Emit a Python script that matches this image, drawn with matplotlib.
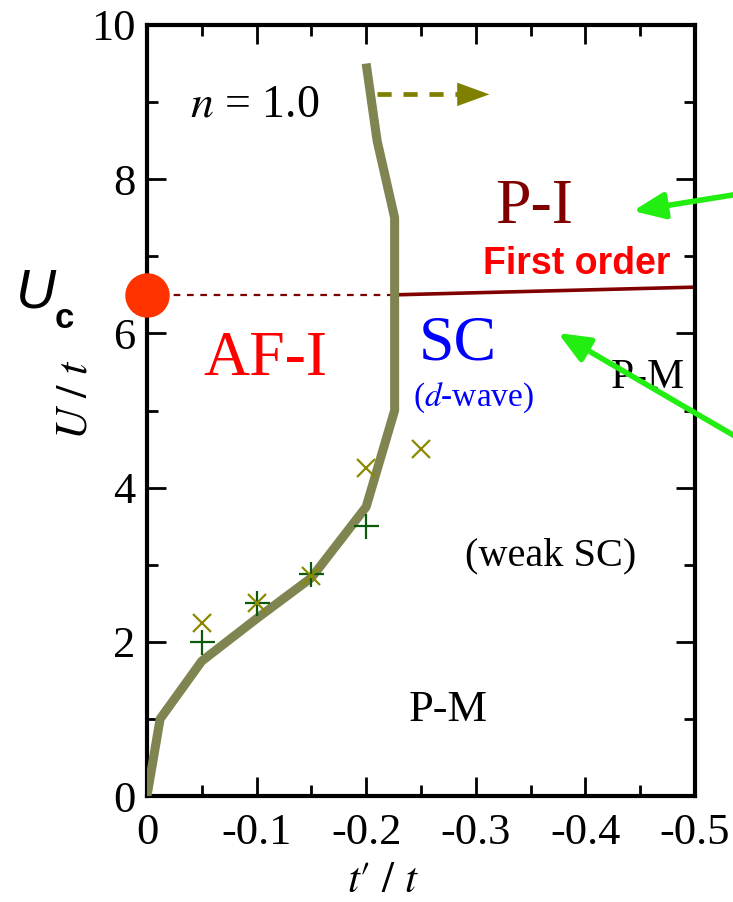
import numpy as np
import matplotlib.pyplot as plt
from matplotlib.ticker import MultipleLocator

plt.rcParams['font.family'] = ['Liberation Serif', 'DejaVu Serif']
plt.rcParams['mathtext.fontset'] = 'stix'
plt.rcParams['font.size'] = 30

# phase boundary AF-I / SC (thick line)
bnd_tp = [0.0, -0.012, -0.05, -0.1, -0.15, -0.2, -0.226, -0.226, -0.21, -0.2]
bnd_u = [0.0, 1.0, 1.75, 2.3, 2.83, 3.75, 5.0, 7.5, 8.5, 9.5]

# data points
plus_tp = [-0.05, -0.1, -0.15, -0.2]
plus_u = [2.0, 2.5, 2.875, 3.5]
cross_tp = [-0.05, -0.1, -0.15, -0.2, -0.25]
cross_u = [2.25, 2.5, 2.85, 4.25, 4.5]

# first-order Mott transition line
uc = 6.5
mott_tp = [-0.226, -0.5]
mott_u = [6.5, 6.6]

olive = '#7f8450'
dred = '#800000'

fig = plt.figure(figsize=(7.33, 9.02), dpi=100)
ax = fig.add_axes([0.2005, 0.1175, 0.7475, 0.8548])

ax.plot(bnd_tp, bnd_u, color=olive, lw=6.5, solid_capstyle='butt', zorder=3)
ax.plot(plus_tp, plus_u, '+', color='#0b5a0b', ms=18, mew=1.6, zorder=4)
ax.plot(cross_tp, cross_u, 'x', color='#8a8a00', ms=13, mew=1.6, zorder=4)

ax.plot([0, mott_tp[0]], [uc, uc], color=dred, lw=1.6, ls=(0, (3, 3)), zorder=2)
ax.plot(mott_tp, mott_u, color=dred, lw=2.6, zorder=2)
ax.plot([0], [uc], 'o', color='#ff3300', ms=32, mec='none', clip_on=False, zorder=5)

# dashed arrow: boundary shifts to larger |t'|
ax.plot([-0.21, -0.29], [9.1, 9.1], color='#808000', lw=3.4, ls=(0, (3, 2.5)))
ax.annotate('', xy=(-0.315, 9.1), xytext=(-0.285, 9.1),
            arrowprops=dict(arrowstyle='-|>,head_length=1.15,head_width=0.42',
                            mutation_scale=20, color='#808000', lw=0.1))

ax.text(-0.0985, 8.96, '$n$ = 1.0', ha='center', va='center', fontsize=33)
ax.text(-0.353, 7.63, 'P-I', ha='center', va='center', fontsize=46, color=dred)
ax.text(-0.392, 6.9, 'First order', ha='center', va='center', fontsize=27,
        color='#ff0000', fontweight='bold', family='Liberation Sans')
ax.text(-0.284, 5.86, 'SC', ha='center', va='center', fontsize=46, color='#0000ff')
ax.text(-0.298, 5.16, '($d$-wave)', ha='center', va='center', fontsize=24, color='#0000ff')
ax.text(-0.108, 5.65, 'AF-I', ha='center', va='center', fontsize=46, color='#ff0000')
ax.text(-0.457, 5.43, 'P-M', ha='center', va='center', fontsize=30)
ax.text(-0.368, 3.11, '(weak SC)', ha='center', va='center', fontsize=29)
ax.text(-0.275, 1.12, 'P-M', ha='center', va='center', fontsize=32)

ax.set_xlim(0, -0.5)
ax.set_ylim(0, 10)
ax.xaxis.set_major_locator(MultipleLocator(0.1))
ax.xaxis.set_minor_locator(MultipleLocator(0.05))
ax.yaxis.set_major_locator(MultipleLocator(2))
ax.yaxis.set_minor_locator(MultipleLocator(1))
ax.set_xticks([0, -0.1, -0.2, -0.3, -0.4, -0.5])
ax.set_xticklabels(['0', '-0.1', '-0.2', '-0.3', '-0.4', '-0.5'])
ax.tick_params(which='both', direction='in', top=True, right=True, width=2, labelsize=32)
ax.tick_params(which='major', length=14)
ax.tick_params(axis='x', which='major', pad=12)
ax.tick_params(axis='y', which='major', pad=8)
ax.tick_params(which='minor', length=8)
for s in ax.spines.values():
    s.set_linewidth(3)

ax.set_xlabel("$t\\prime\\ /\\ t$", fontsize=31)
ax.xaxis.set_label_coords(0.43, -0.086)
ax.set_ylabel('$U\\ /\\ t$', fontsize=32)
ax.yaxis.set_label_coords(-0.094, 0.514)

fig.text(36, 902 - 293, 'U', transform=None, ha='center', va='center',
         fontsize=40, style='italic', family='Liberation Sans')
fig.text(64, 902 - 319, 'c', transform=None, ha='center', va='center',
         fontsize=25, fontweight='bold', family='Liberation Sans')

# green pointer arrows coming from the right edge
for tail, tip in [((745, 902 - 193), (633, 902 - 211)),
                  ((745, 902 - 442), (558, 902 - 333))]:
    ax.annotate('', xy=tip, xytext=tail, xycoords='figure pixels',
                textcoords='figure pixels', annotation_clip=False,
                arrowprops=dict(arrowstyle='-|>,head_length=0.95,head_width=0.4',
                                mutation_scale=20, color='#22ee11', lw=4,
                                shrinkA=0, shrinkB=0),
                zorder=6)

fig.savefig('out.png', dpi=100)
